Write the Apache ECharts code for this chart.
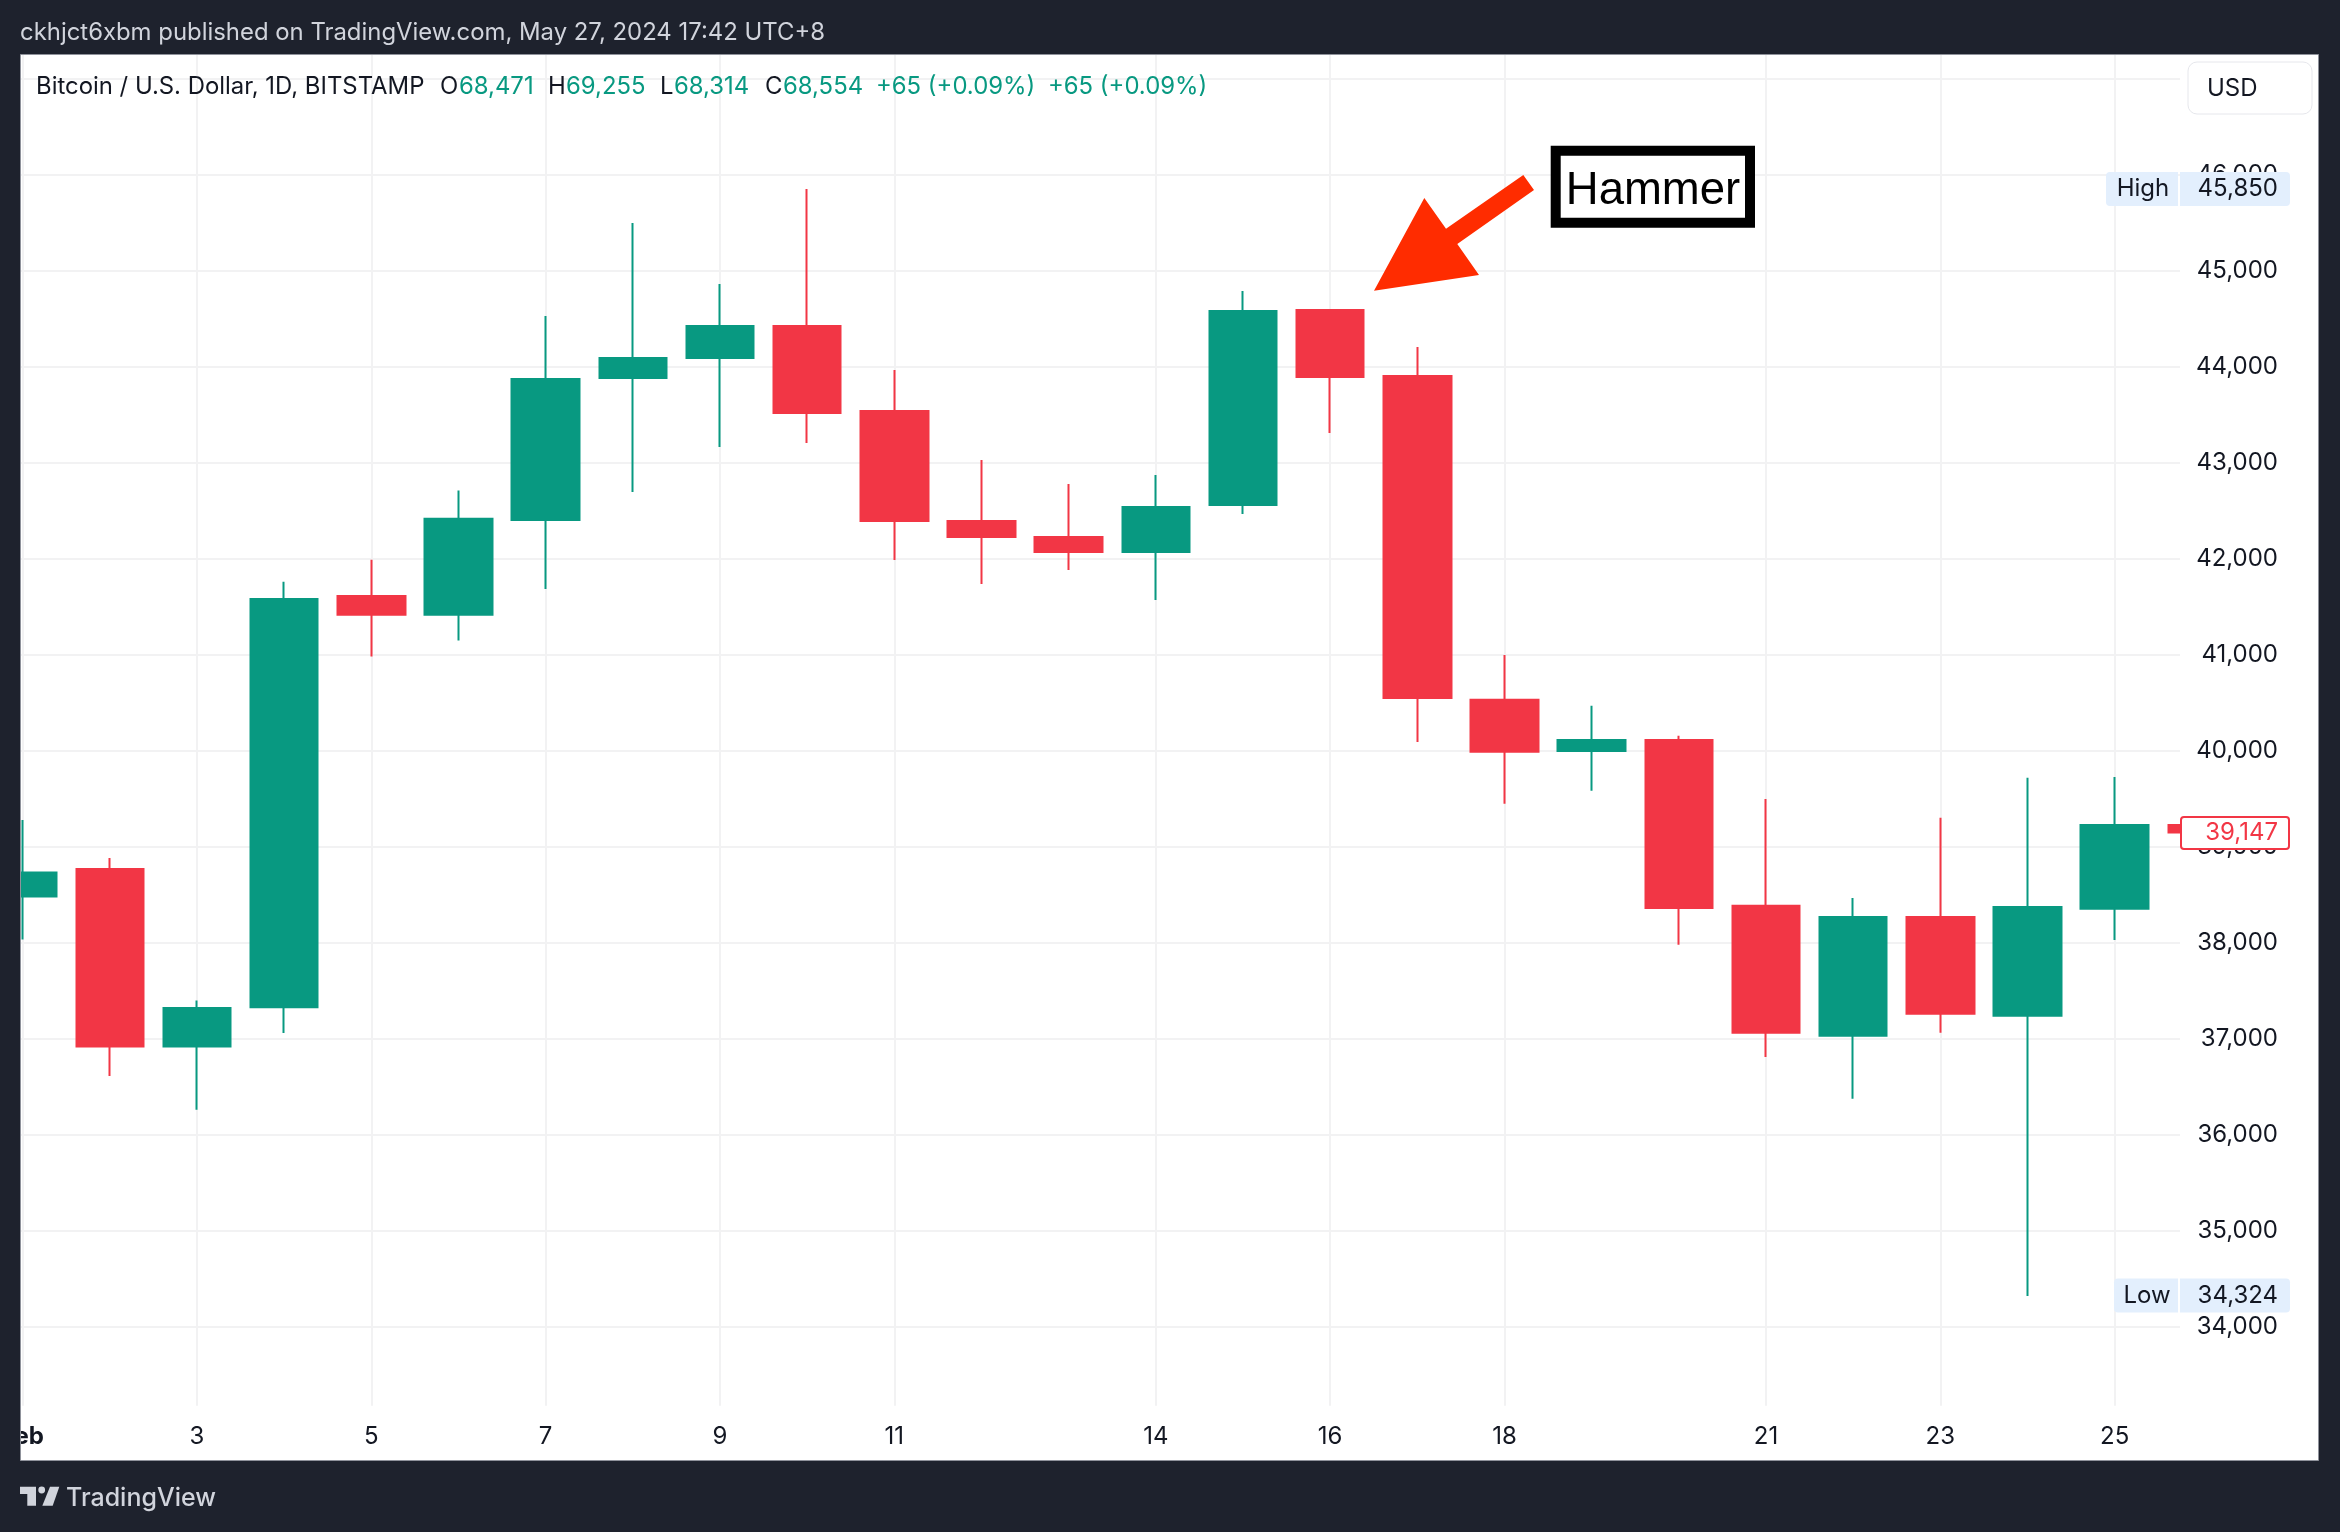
<!DOCTYPE html>
<html>
<head>
<meta charset="utf-8">
<title>BTCUSD 1D</title>
<style>
html, body { margin: 0; padding: 0; background: #1e222d; }
#chart { width: 2340px; height: 1532px; }
</style>
<script src="https://cdn.jsdelivr.net/npm/echarts@6/dist/echarts.min.js"></script>
</head>
<body>
<div id="chart"></div>
<script>
// 日线数据 (Feb, 读图估算)
const days   = [1, 2, 3, 4, 5, 6, 7, 8, 9, 10, 11, 12, 13, 14, 15, 16, 17, 18, 19, 20, 21, 22, 23, 24, 25, 26];
const opens  = [38481, 38768, 36918, 37327, 41612, 41415, 42403, 43882, 44090, 44424, 43538, 42392, 42226, 42069, 42559, 44590, 43903, 40530, 39997, 40110, 38385, 37030, 38267, 37238, 38353, 39225];
const closes = [38730, 36918, 37320, 41580, 41415, 42416, 43872, 44090, 44424, 43517, 42392, 42226, 42069, 42538, 44580, 43892, 40549, 39988, 40110, 38362, 37061, 38267, 37260, 38371, 39225, 39147];
const lows   = [38034, 36612, 36261, 37059, 40981, 41147, 41684, 42694, 43163, 43205, 41986, 41736, 41882, 41569, 42465, 43309, 40090, 39446, 39582, 37978, 36808, 36375, 37061, 34320, 38028, 39100];
const highs  = [39278, 38883, 37397, 41759, 41989, 42709, 44528, 45497, 44861, 45850, 43965, 43028, 42778, 42872, 44788, 44590, 44205, 40997, 40467, 40155, 39496, 38466, 39302, 39717, 39726, 39300];

const xTicks = [1, 3, 5, 7, 9, 11, 14, 16, 18, 21, 23, 25];
const yGridTicks = [34000, 35000, 36000, 37000, 38000, 39000, 40000, 41000, 42000, 43000, 44000, 45000, 46000, 47000];
const yLabelTicks = [34000, 35000, 36000, 37000, 38000, 39000, 40000, 41000, 42000, 43000, 44000, 45000, 46000];

const highValue = 45850;
const lowValue = 34324;
const lastValue = 39147;

const GREEN = '#089981';
const RED = '#f23645';
const GRID = '#f2f2f3';
const DARK = '#1e222d';
const FONT = 'Inter, "Noto Sans", sans-serif';

const fmt = function (v) {
    return String(v).replace(/\B(?=(\d{3})+$)/g, ',');
};

const chart = echarts.init(document.getElementById('chart'), null, { renderer: 'canvas' });

chart.setOption({
    animation: false,
    backgroundColor: DARK,
    // Feb 标签左边出界,不能让 grid 自动收缩
    grid: { left: 20.5, right: 160, top: 54, bottom: 126.3, outerBoundsMode: 'none' },
    xAxis: {
        type: 'value',
        min: 0.976,
        max: 25.75,
        axisLine: { show: false },
        axisTick: { show: false, customValues: xTicks },
        splitLine: { show: true, lineStyle: { color: GRID, width: 2 } },
        axisLabel: {
            customValues: xTicks,
            margin: 19,
            color: '#131722',
            fontFamily: FONT,
            fontSize: 24,
            formatter: function (v) {
                return v === 1 ? '{b|Feb}' : String(v);
            },
            rich: { b: { fontFamily: FONT, fontSize: 24, fontWeight: 700, color: '#131722' } }
        }
    },
    yAxis: {
        type: 'value',
        position: 'right',
        min: 33177,
        max: 47257,
        scale: true,
        axisLine: { show: false },
        axisTick: { show: false, customValues: yGridTicks },
        splitLine: { show: true, lineStyle: { color: GRID, width: 2 } },
        axisLabel: {
            customValues: yLabelTicks,
            margin: 98,
            align: 'right',
            color: '#131722',
            fontFamily: FONT,
            fontSize: 24,
            formatter: fmt
        }
    },
    series: [{
        type: 'candlestick',
        barWidth: 68,
        clip: true,
        encode: { x: 0, y: [1, 2, 3, 4] },
        data: days.map(function (d, i) {
            return [d, opens[i], closes[i], lows[i], highs[i]];
        }),
        itemStyle: {
            color: GREEN,
            color0: RED,
            borderColor: GREEN,
            borderColor0: RED,
            borderWidth: 2
        }
    }]
});

function txt(text, x, y, font, fill, align) {
    return {
        type: 'text',
        z: 60,
        silent: true,
        style: { text: text, x: x, y: y, font: font, fill: fill, align: align || 'left', verticalAlign: 'middle' }
    };
}

function box(x, y, w, h, fill, stroke, lw, r, z) {
    return {
        type: 'rect',
        z: z === undefined ? 50 : z,
        silent: true,
        shape: { x: x, y: y, width: w, height: h, r: r || 0 },
        style: { fill: fill, stroke: stroke || null, lineWidth: lw || 0 }
    };
}

function poly(points, fill) {
    return { type: 'polygon', z: 55, silent: true, shape: { points: points }, style: { fill: fill } };
}

// 价格标签,位置跟数据走
function priceBadges() {
    const highY = chart.convertToPixel({ yAxisIndex: 0 }, highValue);
    const lowY = chart.convertToPixel({ yAxisIndex: 0 }, lowValue);
    const lastY = chart.convertToPixel({ yAxisIndex: 0 }, lastValue);
    const f = '24px ' + FONT;
    return [
        box(2106, highY - 17, 72, 34, '#e3effd', null, 0, [4, 0, 0, 4]),
        box(2180, highY - 17, 110, 34, '#e3effd', null, 0, [0, 4, 4, 0]),
        txt('High', 2143, highY, f, '#131722', 'center'),
        txt(fmt(highValue), 2278, highY, f, '#131722', 'right'),
        box(2114, lowY - 17, 64, 34, '#e3effd', null, 0, [4, 0, 0, 4]),
        box(2180, lowY - 17, 110, 34, '#e3effd', null, 0, [0, 4, 4, 0]),
        txt('Low', 2147, lowY, f, '#131722', 'center'),
        txt(fmt(lowValue), 2278, lowY, f, '#131722', 'right'),
        box(2181, lastY - 15.5, 108, 32, '#ffffff', RED, 2, 3),
        txt(fmt(lastValue), 2278, lastY + 0.5, f, RED, 'right')
    ];
}

function frame() {
    const h = '23.9px ' + FONT;
    const l = '23.9px ' + FONT;
    return [
        box(20.5, 54.5, 2298, 1406, '#ffffff', null, 0, 0, -10),
        box(0, 54, 20, 1420, DARK, null, 0, 0, 40),
        box(20.5, 54.5, 2298, 1406, 'transparent', '#8f929b', 1, 0, 41),
        txt('ckhjct6xbm published on TradingView.com, May 27, 2024 17:42 UTC+8', 20, 33, h, '#d1d4dc'),
        // 图例
        txt('Bitcoin / U.S. Dollar, 1D, BITSTAMP', 36, 87, l, '#131722'),
        txt('O', 440, 87, l, '#131722'), txt('68,471', 459, 87, l, GREEN),
        txt('H', 548, 87, l, '#131722'), txt('69,255', 566, 87, l, GREEN),
        txt('L', 660, 87, l, '#131722'), txt('68,314', 674, 87, l, GREEN),
        txt('C', 765, 87, l, '#131722'), txt('68,554', 783, 87, l, GREEN),
        txt('+65 (+0.09%)', 876, 87, l, GREEN),
        txt('+65 (+0.09%)', 1048, 87, l, GREEN),
        // USD
        box(2188, 62, 124, 52, '#ffffff', '#e6e7ec', 1, 9),
        txt('USD', 2207, 89, '24px ' + FONT, '#131722'),
        // Hammer 标注
        box(1555.7, 150.7, 194.3, 72, '#ffffff', '#000000', 10),
        txt('Hammer', 1653, 191, '45.5px "Liberation Sans", Arial, sans-serif', '#000000', 'center'),
        poly([[1374, 290.7], [1424.3, 198], [1446, 228.7], [1523.3, 175], [1534, 190], [1457.3, 244], [1479, 275]], '#ff2c00'),
        // 底部 logo
        poly([[20, 1486.7], [36, 1486.7], [36, 1505.7], [27.3, 1505.7], [27.3, 1494], [20, 1494]], '#d1d4dc'),
        { type: 'circle', z: 55, silent: true, shape: { cx: 41.7, cy: 1490, r: 3.4 }, style: { fill: '#d1d4dc' } },
        poly([[50, 1486.7], [59.3, 1486.7], [52.7, 1505.7], [42.3, 1505.7]], '#d1d4dc'),
        txt('TradingView', 66, 1498.5, '500 25px ' + FONT, '#d1d4dc')
    ];
}

chart.setOption({ graphic: { elements: frame().concat(priceBadges()) } });
</script>
</body>
</html>
